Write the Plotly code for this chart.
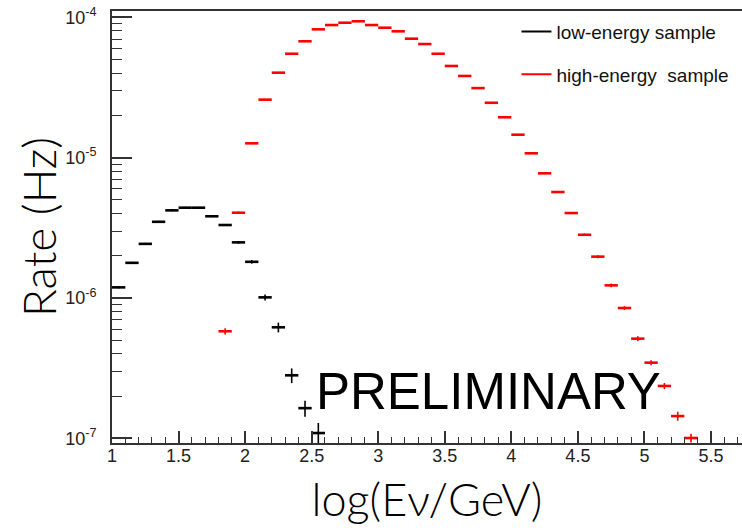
import plotly.graph_objects as go

# ---- data (bin centres in log10(E/GeV), rates in Hz) ----
low_x = [1.05, 1.15, 1.25, 1.35, 1.45, 1.55, 1.65, 1.75, 1.85, 1.95,
         2.05, 2.15, 2.25, 2.35, 2.45, 2.55]
low_rate = [1.19e-6, 1.78e-6, 2.43e-6, 3.49e-6, 4.21e-6, 4.40e-6, 4.40e-6,
            3.82e-6, 3.31e-6, 2.49e-6, 1.81e-6, 1.01e-6, 6.18e-7, 2.81e-7,
            1.64e-7, 1.09e-7]
low_rel_err = [0.015, 0.015, 0.015, 0.015, 0.01, 0.01, 0.01, 0.01, 0.015,
               0.02, 0.03, 0.05, 0.08, 0.12, 0.13, 0.18]

high_x = [1.85, 1.95, 2.05, 2.15, 2.25, 2.35, 2.45, 2.55, 2.65, 2.75, 2.85,
          2.95, 3.05, 3.15, 3.25, 3.35, 3.45, 3.55, 3.65, 3.75, 3.85, 3.95,
          4.05, 4.15, 4.25, 4.35, 4.45, 4.55, 4.65, 4.75, 4.85, 4.95, 5.05,
          5.15, 5.25, 5.35]
high_rate = [5.79e-7, 4.05e-6, 1.265e-5, 2.59e-5, 4.03e-5, 5.50e-5, 6.75e-5,
             8.21e-5, 8.81e-5, 9.15e-5, 9.37e-5, 8.81e-5, 8.43e-5, 7.95e-5,
             7.04e-5, 6.45e-5, 5.50e-5, 4.50e-5, 3.82e-5, 3.13e-5, 2.46e-5,
             1.94e-5, 1.457e-5, 1.074e-5, 7.73e-6, 5.69e-6, 4.03e-6, 2.82e-6,
             1.97e-6, 1.23e-6, 8.48e-7, 5.13e-7, 3.46e-7, 2.36e-7, 1.44e-7,
             1.005e-7]
high_rel_err = [0.05, 0.02, 0.01, 0.01, 0.01, 0.01, 0.01, 0.01, 0.01, 0.01,
                0.01, 0.01, 0.01, 0.01, 0.01, 0.01, 0.01, 0.01, 0.01, 0.01,
                0.01, 0.01, 0.01, 0.01, 0.012, 0.015, 0.015, 0.02, 0.025,
                0.03, 0.03, 0.04, 0.04, 0.05, 0.075, 0.07]

bin_half_width = 0.05

y_tick_values = [1e-7, 1e-6, 1e-5, 1e-4]
y_tick_labels = ["10<sup>-7</sup>", "10<sup>-6</sup>", "10<sup>-5</sup>",
                 "10<sup>-4</sup>"]

low_label = "low-energy sample"
high_label = "high-energy  sample"
x_title = "log(Eν/GeV)"
y_title = "Rate (Hz)"
watermark = "PRELIMINARY"

low_err = [v * r for v, r in zip(low_rate, low_rel_err)]
high_err = [v * r for v, r in zip(high_rate, high_rel_err)]

fig = go.Figure()


def add_hist(x, y, err, color, name):
    fig.add_trace(go.Scatter(
        x=x, y=y, mode="markers", showlegend=False, name=name,
        marker=dict(size=2, color=color),
        error_x=dict(type="constant", value=bin_half_width, width=0,
                     thickness=2.6, color=color),
        error_y=dict(type="data", array=err, width=0, thickness=1.6,
                     color=color),
    ))
    fig.add_trace(go.Scatter(
        x=[None], y=[None], mode="lines", name=name,
        line=dict(color=color, width=2), legendgroup=name,
    ))


add_hist(low_x, low_rate, low_err, "#000000", low_label)
add_hist(high_x, high_rate, high_err, "#ff0000", high_label)

axis_color = "#333333"
tick_font = dict(family="Liberation Sans, Arial, sans-serif", size=18,
                 color="#222222")
x_title_font = dict(family="Lato, sans-serif", size=45, color="#000000",
                    weight=300)
y_title_font = dict(family="Lato, sans-serif", size=46, color="#000000",
                    weight=300)

fig.update_layout(
    width=742, height=532,
    margin=dict(l=112, r=0, t=11, b=89),
    paper_bgcolor="white", plot_bgcolor="white",
    showlegend=True,
    legend=dict(
        x=0.642, y=0.996, xanchor="left", yanchor="top",
        font=dict(family="Liberation Sans, Arial, sans-serif", size=19,
                  color="#111111"),
        bgcolor="rgba(0,0,0,0)", tracegroupgap=15, itemwidth=30,
    ),
    xaxis=dict(
        range=[1.0, 5.733], dtick=0.5, tick0=1,
        showline=True, linecolor=axis_color, linewidth=2, mirror=True,
        ticks="inside", ticklen=12, tickwidth=1.5, tickcolor=axis_color,
        minor=dict(dtick=0.1, tick0=1, ticks="inside", ticklen=6,
                   tickwidth=1.2, tickcolor=axis_color, showgrid=False),
        showgrid=False, zeroline=False,
        tickfont=tick_font, ticklabelstandoff=-5,
        title=dict(text=x_title, font=x_title_font, standoff=20),
    ),
    yaxis=dict(
        type="log", range=[-7.0335, -3.955],
        tickmode="array", tickvals=y_tick_values, ticktext=y_tick_labels,
        showline=True, linecolor=axis_color, linewidth=2, mirror=False,
        ticks="inside", ticklen=20, tickwidth=1.5, tickcolor=axis_color,
        minor=dict(dtick="D1", ticks="inside", ticklen=10, tickwidth=1.2,
                   tickcolor=axis_color, showgrid=False),
        showgrid=False, zeroline=False,
        tickfont=tick_font, ticklabelstandoff=10,
    ),
    annotations=[
        dict(text=watermark, x=2.52, y=-6.663, xref="x", yref="y",
             xanchor="left", yanchor="middle", showarrow=False,
             font=dict(family="Liberation Sans, Arial, sans-serif", size=51,
                       color="#000000")),
        dict(text=y_title, x=-0.1175, y=0.5, xref="paper", yref="paper",
             xanchor="center", yanchor="middle", textangle=-90,
             showarrow=False, font=y_title_font),
    ],
)

fig.write_html("out.html")
